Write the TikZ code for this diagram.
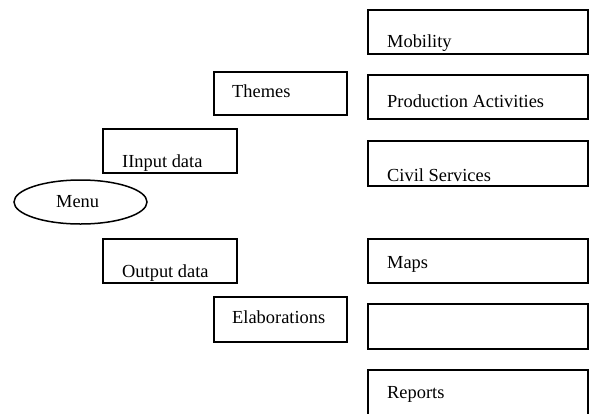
\documentclass[tikz,border=0pt]{standalone}
\usepackage{fontspec}
\setmainfont{Liberation Serif}
\usetikzlibrary{shapes.geometric}
\begin{document}
\begin{tikzpicture}[x=1pt,y=-1pt,
  box/.style={draw,line width=1.5pt,rectangle,inner sep=0pt,anchor=north west},
  lbl/.style={anchor=base west,inner sep=0pt,font=\fontsize{18.4pt}{22pt}\selectfont}]
\useasboundingbox (0,0) rectangle (589,413);
\clip (0,0) rectangle (589,413);
% right column
\node[box,minimum width=220pt,minimum height=44pt] (mob) at (367,9) {};
\node[lbl] (mobt) at (387,47) {Mobility};
\node[box,minimum width=220pt,minimum height=44pt] (prod) at (367,74) {};
\node[lbl] (prodt) at (387,107) {Production Activities};
\node[box,minimum width=220pt,minimum height=45pt] (civ) at (367,140) {};
\node[lbl] (civt) at (387,181) {Civil Services};
\node[box,minimum width=220pt,minimum height=44pt] (maps) at (367,238) {};
\node[lbl] (mapst) at (387,268) {Maps};
\node[box,minimum width=220pt,minimum height=45pt] (empty) at (367,303) {};
\node[box,minimum width=220pt,minimum height=60pt] (rep) at (367,369) {};
\node[lbl] (rept) at (387,398) {Reports};
% middle column
\node[box,minimum width=133pt,minimum height=43pt] (themes) at (213,71) {};
\node[lbl] (themest) at (232,97) {Themes};
\node[box,minimum width=133pt,minimum height=45pt] (elab) at (213,296) {};
\node[lbl] (elabt) at (232,323) {Elaborations};
% left column
\node[box,minimum width=134pt,minimum height=44pt] (inp) at (102,128) {};
\node[lbl] (inpt) at (122,167) {IInput data};
\node[box,minimum width=134pt,minimum height=44pt] (outp) at (102,238) {};
\node[lbl] (outpt) at (122,277) {Output data};
% menu
\node[draw,line width=1.5pt,ellipse,inner sep=0pt,minimum width=133pt,minimum height=44pt] (menu) at (80.5,202) {};
\node[lbl] (menut) at (56,207) {Menu};
\end{tikzpicture}
\end{document}
